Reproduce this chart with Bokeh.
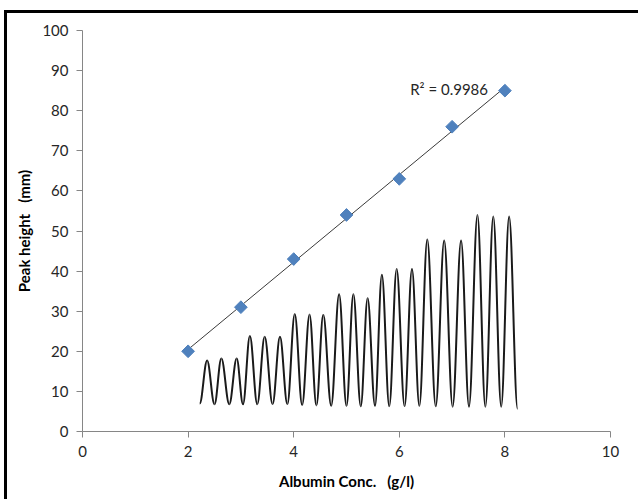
from bokeh.plotting import figure
from bokeh.models import FixedTicker, Label, Range1d
from bokeh.embed import file_html
from bokeh.resources import INLINE
import numpy as np

# Calibration standards: albumin concentration vs. measured peak height
conc = [2, 3, 4, 5, 6, 7, 8]
peak_height = [20, 31, 43, 54, 63, 76, 85]
r_squared_text = "R\u00b2 = 0.9986"

x_ticks = [0, 2, 4, 6, 8, 10]
y_ticks = [0, 10, 20, 30, 40, 50, 60, 70, 80, 90, 100]

# Recorder trace (triplicate injections): apex and valley positions
trace_peak_x = [2.36, 2.63, 2.92, 3.17, 3.45, 3.74, 4.02, 4.30, 4.56,
                4.86, 5.13, 5.40, 5.67, 5.95, 6.24, 6.53, 6.85, 7.17,
                7.48, 7.78, 8.08]
trace_peak_y = [17.7, 18.2, 18.2, 23.8, 23.6, 23.6, 29.3, 29.2, 29.1,
                34.2, 34.2, 33.2, 39.1, 40.5, 40.5, 47.9, 47.6, 47.6,
                54.0, 53.6, 53.6]
trace_valley_x = [2.22, 2.50, 2.78, 3.04, 3.31, 3.60, 3.88, 4.16, 4.43,
                  4.71, 5.00, 5.27, 5.54, 5.81, 6.10, 6.38, 6.69, 7.01,
                  7.32, 7.63, 7.93, 8.24]
trace_valley_y = [7.0, 6.8, 6.8, 6.8, 6.8, 6.8, 6.8, 6.6, 6.5, 6.4, 6.4,
                  6.3, 6.4, 6.3, 6.3, 6.4, 6.3, 6.2, 6.2, 6.2, 6.2, 5.7]

FONT = "Lato"
TEXT = "#262626"
AXIS = "#868686"
NB = "\u00a0"

# The plot sits inside a heavy black frame; only its top and left edges
# fall inside the page
p = figure(width=636, height=490, output_backend="svg", toolbar_location=None,
           x_range=Range1d(0, 10), y_range=Range1d(0, 100),
           min_border_left=75, min_border_right=36,
           min_border_top=17, min_border_bottom=75)
p.margin = (10, 0, 0, 4)
p.styles = {"border-top": "3px solid black", "border-left": "3px solid black",
            "box-sizing": "content-box"}
p.outline_line_color = None
p.background_fill_color = "white"
p.border_fill_color = "white"
p.grid.visible = False

for ax in (p.xaxis, p.yaxis):
    ax.axis_line_color = AXIS
    ax.major_tick_line_color = AXIS
    ax.minor_tick_line_color = None
    ax.major_tick_in = 0
    ax.major_tick_out = 6
    ax.major_label_text_font = FONT
    ax.major_label_text_font_size = "15px"
    ax.major_label_text_color = TEXT
    ax.axis_label_text_font = FONT
    ax.axis_label_text_font_size = "15px"
    ax.axis_label_text_font_style = "bold"
    ax.axis_label_text_color = "black"

p.xaxis.ticker = FixedTicker(ticks=x_ticks)
p.yaxis.ticker = FixedTicker(ticks=y_ticks)
p.xaxis.major_label_standoff = 8
p.yaxis.major_label_standoff = 8
p.xaxis.axis_label = "Albumin Conc." + NB * 3 + "(g/l)"
p.yaxis.axis_label = "Peak height" + NB * 3 + "(mm)"
p.xaxis.axis_label_standoff = 12
p.yaxis.axis_label_standoff = 6

# Linear least-squares trendline over the calibration range
slope, intercept = np.polyfit(conc, peak_height, 1)
fit_x = [conc[0], conc[-1]]
fit_y = [slope * v + intercept for v in fit_x]
p.line(fit_x, fit_y, line_color="#3a3a3a", line_width=1)

# Trace: alternate valley -> apex -> valley with smooth cubic segments
pts_x, pts_y = [], []
for i in range(len(trace_peak_x)):
    pts_x += [trace_valley_x[i], trace_peak_x[i]]
    pts_y += [trace_valley_y[i], trace_peak_y[i]]
pts_x.append(trace_valley_x[-1])
pts_y.append(trace_valley_y[-1])

k = 0.3642
x0, y0, x1, y1, cx0, cy0, cx1, cy1 = [], [], [], [], [], [], [], []
for i in range(len(pts_x) - 1):
    dx = pts_x[i + 1] - pts_x[i]
    x0.append(pts_x[i]); y0.append(pts_y[i])
    x1.append(pts_x[i + 1]); y1.append(pts_y[i + 1])
    cx0.append(pts_x[i] + k * dx); cy0.append(pts_y[i])
    cx1.append(pts_x[i + 1] - k * dx); cy1.append(pts_y[i + 1])
p.bezier(x0=x0, y0=y0, x1=x1, y1=y1, cx0=cx0, cy0=cy0, cx1=cx1, cy1=cy1,
         line_color="#1a1a1a", line_width=2)

# Calibration points as Excel-style diamonds
p.scatter(conc, peak_height, marker="square", angle=np.pi / 4, size=9,
          fill_color="#4F81BD", line_color="#4F81BD")

p.add_layout(Label(x=7.68, y=85.5, text=r_squared_text, text_align="right",
                   text_baseline="middle", text_font=FONT,
                   text_font_size="15px", text_color=TEXT))

open("out.html", "w").write(file_html(p, INLINE))
